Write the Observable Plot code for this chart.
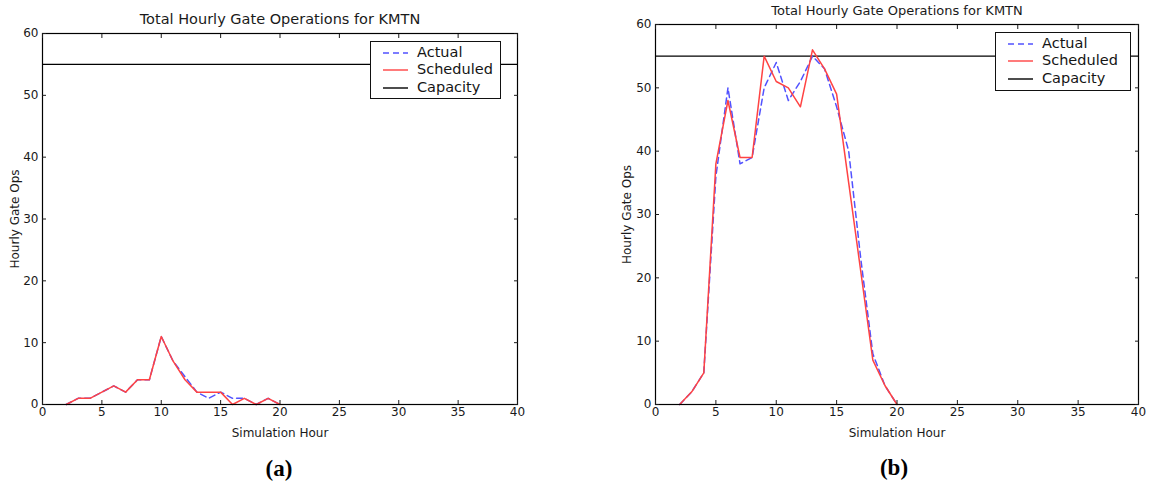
<!DOCTYPE html>
<html>
<head>
<meta charset="utf-8">
<script src="https://cdn.jsdelivr.net/npm/d3@7"></script>
<script src="https://cdn.jsdelivr.net/npm/@observablehq/plot@0.6"></script>
<style>
  html, body { margin: 0; padding: 0; background: #fff; }
  #wrap { position: relative; width: 1150px; height: 485px; overflow: hidden; font-family: "DejaVu Sans", sans-serif; }
  .panel { position: absolute; top: 0; }
  .legend { position: absolute; border: 1.2px solid #111; background: #fff; box-sizing: border-box; }
  .legend .row { position: absolute; left: 0; height: 17px; width: 100%; }
  .legend svg { position: absolute; left: 12px; top: 0; }
  .legend span { position: absolute; left: 46px; top: 0; line-height: 17px; font-size: 14.5px; color: #151515; white-space: nowrap; }
  .cap { position: absolute; transform: translateX(-50%); font-family: "Liberation Serif", "Times New Roman", serif; font-weight: bold; font-size: 23px; line-height: 23px; color: #000; }
</style>
</head>
<body>
<div id="wrap"></div>
<script>
// ---- data ----
const title = "Total Hourly Gate Operations for KMTN";
const xLabel = "Simulation Hour";
const yLabel = "Hourly Gate Ops";
const xTicks = [0, 5, 10, 15, 20, 25, 30, 35, 40];
const yTicks = [0, 10, 20, 30, 40, 50, 60];
const capacity = 55;
const hours = [2, 3, 4, 5, 6, 7, 8, 9, 10, 11, 12, 13, 14, 15, 16, 17, 18, 19, 20];

// panel (a)
const actualA    = [0, 1, 1, 2, 3, 2, 4, 4, 11, 7, 4.5, 2, 1, 2, 1, 1, 0, 1, 0];
const scheduledA = [0, 1, 1, 2, 3, 2, 4, 4, 11, 7, 4, 2, 2, 2, 0, 1, 0, 1, 0];
// panel (b)
const actualB    = [0, 2, 5, 36, 50, 38, 39, 50, 54, 48, 51, 55, 53, 47, 40, 23, 8, 3, 0];
const scheduledB = [0, 2, 5, 38, 48, 39, 39, 55, 51, 50, 47, 56, 53, 49, 35, 21, 7, 3, 0];

const seriesNames = ["Actual", "Scheduled", "Capacity"];
const captions = ["(a)", "(b)"];

// ---- styles ----
const blue = "#5252ff";
const red = "#ff4343";

function rows(vals) { return hours.map((h, i) => ({hour: h, ops: vals[i]})); }

function makePanel(actual, scheduled, layout) {
  return Plot.plot({
    width: layout.width,
    height: 450,
    marginLeft: layout.ml,
    marginRight: layout.mr,
    marginTop: layout.mt,
    marginBottom: 46,
    x: {domain: [0, 40]},
    y: {domain: [0, 60]},
    style: {fontFamily: "DejaVu Sans, sans-serif", fontSize: "12px", color: "#1a1a1a", background: "transparent", overflow: "visible"},
    marks: [
      Plot.ruleY([capacity], {stroke: "#000", strokeWidth: 1.1}),
      Plot.line(rows(actual), {x: "hour", y: "ops", stroke: blue, strokeWidth: 1.5, strokeDasharray: "6,4"}),
      Plot.line(rows(scheduled), {x: "hour", y: "ops", stroke: red, strokeWidth: 1.5}),
      Plot.frame({stroke: "#000", strokeWidth: 1.2}),
      Plot.axisX(xTicks, {anchor: "bottom", tickSize: -4, tickPadding: 7, label: xLabel, labelAnchor: "center", labelOffset: 32, labelArrow: "none"}),
      Plot.axisX(xTicks, {anchor: "top", tickSize: -4, tickFormat: () => "", label: null}),
      Plot.axisY(yTicks, {anchor: "left", tickSize: -4, tickPadding: 8, label: yLabel, labelAnchor: "center", labelOffset: layout.lo, labelArrow: "none"}),
      Plot.axisY(yTicks, {anchor: "right", tickSize: -4, tickFormat: () => "", label: null}),
      Plot.text([title], {frameAnchor: "top", lineAnchor: "bottom", dy: -9.5, fontSize: layout.ts, fill: "#1a1a1a"})
    ]
  });
}

const wrap = document.getElementById("wrap");

function addPanel(actual, scheduled, layout, legendPos, caption) {
  const div = document.createElement("div");
  div.className = "panel";
  div.style.left = layout.left + "px";
  div.appendChild(makePanel(actual, scheduled, layout));
  wrap.appendChild(div);

  const lg = document.createElement("div");
  lg.className = "legend";
  lg.style.left = legendPos.left + "px";
  lg.style.top = legendPos.top + "px";
  lg.style.width = legendPos.w + "px";
  lg.style.height = legendPos.h + "px";
  const styles = [
    {stroke: blue, dash: "6,4"},
    {stroke: red, dash: null},
    {stroke: "#000", dash: null}
  ];
  seriesNames.forEach((name, i) => {
    const r = document.createElement("div");
    r.className = "row";
    r.style.top = (2 + i * 17.3) + "px";
    const ns = "http://www.w3.org/2000/svg";
    const s = document.createElementNS(ns, "svg");
    s.setAttribute("width", "26"); s.setAttribute("height", "17");
    const ln = document.createElementNS(ns, "line");
    ln.setAttribute("x1", "0"); ln.setAttribute("x2", "25");
    ln.setAttribute("y1", "9"); ln.setAttribute("y2", "9");
    ln.setAttribute("stroke", styles[i].stroke);
    ln.setAttribute("stroke-width", "1.4");
    if (styles[i].dash) ln.setAttribute("stroke-dasharray", styles[i].dash);
    s.appendChild(ln);
    r.appendChild(s);
    const t = document.createElement("span");
    t.textContent = name;
    r.appendChild(t);
    lg.appendChild(r);
  });
  wrap.appendChild(lg);

  const c = document.createElement("div");
  c.className = "cap";
  c.style.left = caption.x + "px";
  c.style.top = caption.y + "px";
  c.textContent = caption.text;
  wrap.appendChild(c);
}

addPanel(actualA, scheduledA,
  {left: 0, width: 560, ml: 42, mr: 43, mt: 33, lo: 32, ts: 14.5},
  {left: 370, top: 41, w: 131, h: 58},
  {x: 279, y: 457, text: captions[0]});

addPanel(actualB, scheduledB,
  {left: 600, width: 550, ml: 55, mr: 12, mt: 24, lo: 33, ts: 13},
  {left: 995, top: 32, w: 136, h: 59},
  {x: 894, y: 456, text: captions[1]});
</script>
</body>
</html>
